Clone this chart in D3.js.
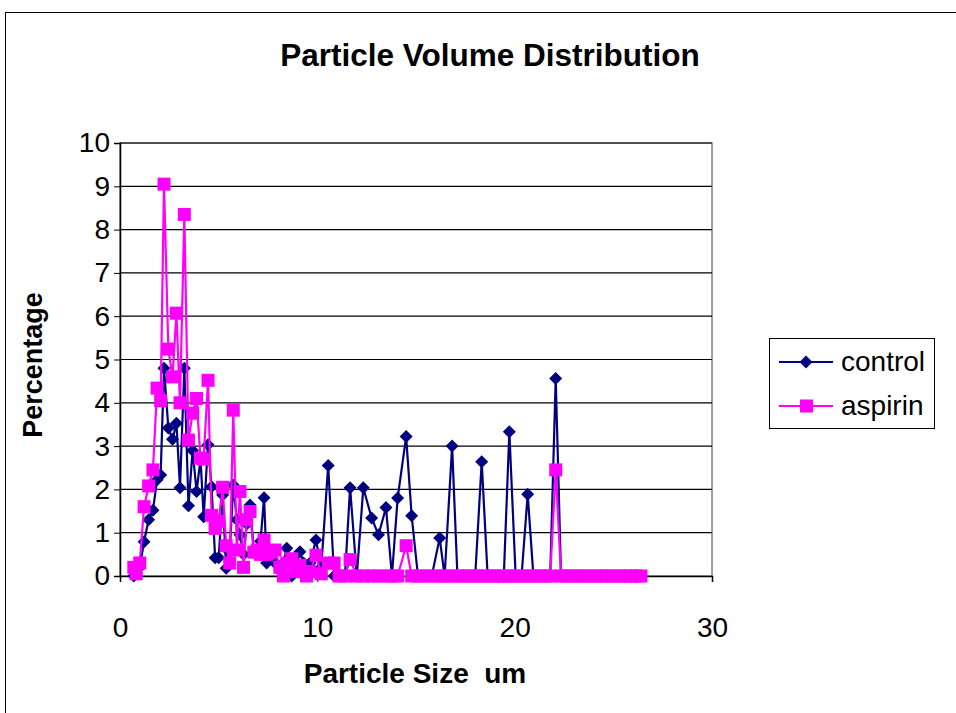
<!DOCTYPE html>
<html><head><meta charset="utf-8">
<script src="https://cdn.jsdelivr.net/npm/d3@7"></script>
<style>body{margin:0;background:#fff;}svg{display:block;font-family:Arial,"Liberation Sans",sans-serif;}</style>
</head><body>
<svg id="c" width="956" height="713"></svg>
<script>
const sizes = [0.7,0.82,1.0,1.22,1.45,1.67,1.88,2.06,2.23,2.45,2.66,2.86,3.04,3.26,3.47,3.68,3.88,4.08,4.24,4.46,4.64,4.82,5.0,5.2,5.38,5.56,5.74,5.92,6.08,6.26,6.42,6.59,6.78,6.96,7.12,7.3,7.43,7.6,7.86,8.1,8.28,8.45,8.7,8.9,9.12,9.3,9.45,9.63,9.93,10.2,10.55,10.85,11.1,11.4,11.66,12.0,12.33,12.75,13.1,13.48,13.78,14.07,14.5,14.78,15.1,15.45,15.8,16.2,16.45,16.83,17.1,17.4,17.7,18.0,18.33,18.63,18.9,19.2,19.45,19.73,20.05,20.35,20.66,20.95,21.25,21.55,21.8,22.08,22.35,22.6,22.9,23.2,23.5,23.8,24.1,24.4,24.7,25.0,25.3,25.6,25.9,26.15,26.4];
const control = [0,0.05,0.2,0.79,1.3,1.52,2.22,2.33,4.8,3.42,3.16,3.53,2.04,4.8,1.62,2.9,1.95,2.7,1.37,3.03,2.06,0.42,0.42,1.87,0.18,0.55,2.1,1.3,0.95,0.5,1.2,1.64,0.6,0.6,0.8,1.81,0.3,0.5,0.3,0.15,0.3,0.64,0,0.2,0.56,0.3,0.15,0.3,0.83,0.2,2.55,0,0,0,2.04,0,2.04,1.34,0.95,1.58,0,1.8,3.22,1.39,0,0,0,0.88,0,3.0,0,0,0,0,2.64,0,0,0,0,3.33,0,0,1.89,0,0,0,0,4.56,0,0,0,0,0,0,0,0,0,0,0,0,0,0,0];
const aspirin = [0.2,0.05,0.3,1.6,2.08,2.45,4.34,4.05,9.05,5.24,4.6,6.07,4.0,8.35,3.14,3.76,4.1,2.72,2.7,4.52,1.4,1.1,1.27,2.05,0.7,0.3,3.83,0.6,1.95,0.2,1.3,1.49,0.55,0.6,0.5,0.83,0.5,0.55,0.6,0.2,0,0.3,0.4,0.1,0.25,0.1,0,0.1,0.48,0.05,0.3,0.3,0,0,0.38,0,0,0,0,0,0,0,0.7,0,0,0,0,0,0,0,0,0,0,0,0,0,0,0,0,0,0,0,0,0,0,0,0,2.45,0,0,0,0,0,0,0,0,0,0,0,0,0,0,0];
const xTicks = [0,10,20,30];
const yTicks = [0,1,2,3,4,5,6,7,8,9,10];
const seriesNames = ["control","aspirin"];
const colors = ["#000080","#FF00FF"];

const svg = d3.select("#c");
const L=120,R=712,T=143,B=576;
const x = d3.scaleLinear().domain([0,30]).range([L,R]);
const y = d3.scaleLinear().domain([0,10]).range([B,T]);

// outer border
svg.append("rect").attr("x",5.5).attr("y",12.5).attr("width",1000).attr("height",1000)
  .attr("fill","none").attr("stroke","#000").attr("stroke-width",1);

// plot area border
svg.append("rect").attr("x",L).attr("y",T).attr("width",R-L).attr("height",B-T)
  .attr("fill","none").attr("stroke","#808080").attr("stroke-width",1.5);

// gridlines
svg.append("g").selectAll("line").data(yTicks.filter(d=>d>0)).join("line")
  .attr("x1",L).attr("x2",R).attr("y1",d=>y(d)).attr("y2",d=>y(d))
  .attr("stroke","#000").attr("stroke-width",1.2);

// y axis
const ya = svg.append("g").attr("transform",`translate(${L},0)`)
  .call(d3.axisLeft(y).tickValues(yTicks).tickSize(6).tickPadding(4).tickFormat(d3.format("d")));
ya.select(".domain").attr("stroke","#000").attr("stroke-width",1.5);
ya.selectAll(".tick line").attr("stroke","#000");
ya.selectAll("text").attr("font-size",28).attr("fill","#000").attr("font-family","Arial,'Liberation Sans',sans-serif");

// x axis
const xa = svg.append("g").attr("transform",`translate(0,${B})`)
  .call(d3.axisBottom(x).tickValues(xTicks).tickSize(6).tickPadding(55).tickFormat(d3.format("d")));
xa.select(".domain").attr("stroke","#000").attr("stroke-width",1.5);
xa.selectAll(".tick line").attr("stroke","#000");
xa.selectAll("text").attr("font-size",28).attr("fill","#000").attr("font-family","Arial,'Liberation Sans',sans-serif").attr("dy","0");

// titles
svg.append("text").attr("x",490).attr("y",66).attr("text-anchor","middle")
  .attr("font-size",31.5).attr("font-weight","bold").text("Particle Volume Distribution");
svg.append("text").attr("transform","translate(42,365) rotate(-90)").attr("text-anchor","middle")
  .attr("font-size",27).attr("font-weight","bold").text("Percentage");
svg.append("text").attr("x",415).attr("y",683).attr("text-anchor","middle")
  .attr("font-size",28).attr("font-weight","bold").attr("xml:space","preserve").text("Particle Size  um");

const data = [control, aspirin];
const line = d3.line().x((d,i)=>x(sizes[i])).y(d=>y(d));
const diamond = (cx,cy,r)=>`M${cx},${cy-r}L${cx+r},${cy}L${cx},${cy+r}L${cx-r},${cy}Z`;

data.forEach((vals,si)=>{
  const g = svg.append("g");
  g.append("path").datum(vals).attr("d",line).attr("fill","none")
    .attr("stroke",colors[si]).attr("stroke-width",2.2);
  if(si===0){
    g.selectAll("path.m").data(vals).join("path").attr("class","m")
      .attr("d",(d,i)=>diamond(x(sizes[i]),y(d),6.5)).attr("fill",colors[si]);
  } else {
    g.selectAll("rect").data(vals).join("rect")
      .attr("x",(d,i)=>x(sizes[i])-6.5).attr("y",d=>y(d)-6.5)
      .attr("width",13).attr("height",13).attr("fill",colors[si]);
  }
});

// legend
const lg = svg.append("g");
lg.append("rect").attr("x",769.5).attr("y",338.5).attr("width",165).attr("height",90)
  .attr("fill","#fff").attr("stroke","#000").attr("stroke-width",1);
seriesNames.forEach((n,i)=>{
  const cy = 362 + i*44;
  lg.append("line").attr("x1",779).attr("x2",833).attr("y1",cy).attr("y2",cy)
    .attr("stroke",colors[i]).attr("stroke-width",2);
  if(i===0) lg.append("path").attr("d",diamond(806,cy,6.5)).attr("fill",colors[i]);
  else lg.append("rect").attr("x",800).attr("y",cy-6.5).attr("width",13).attr("height",13).attr("fill",colors[i]);
  lg.append("text").attr("x",841).attr("y",cy+9).attr("font-size",28).text(n);
});
</script>
</body></html>
